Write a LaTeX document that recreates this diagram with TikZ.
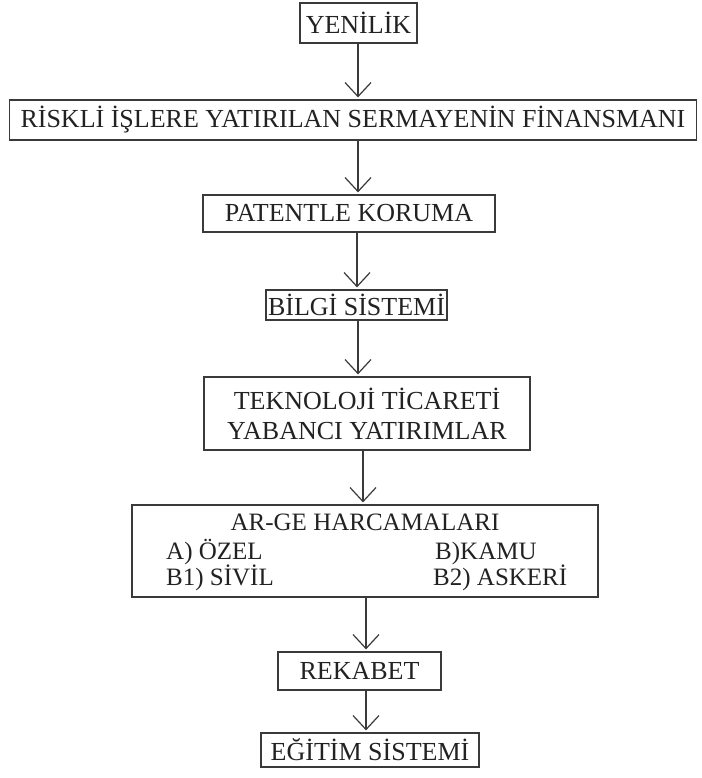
\documentclass[tikz,border=0pt]{standalone}
\usepackage{fontspec}
\setmainfont{Liberation Serif}
\usetikzlibrary{arrows.meta}
\definecolor{boxline}{HTML}{3A3A3A}
\definecolor{txt}{HTML}{222222}
\tikzset{
  box/.style={draw=boxline, line width=1.2pt, inner sep=0pt, align=center, text=txt,
    font=\fontsize{26}{30}\selectfont},
  lbl/.style={inner sep=0pt, text=txt, font=\fontsize{25}{28}\selectfont},
  arr/.style={draw=boxline, line width=1.2pt, -{Straight Barb[length=14pt,width=26pt,line width=1.2pt]}, shorten >=2pt}
}
\begin{document}
\begin{tikzpicture}[x=1pt,y=-1pt]
\useasboundingbox (0,0) rectangle (701,778);
\fill[white] (0,0) rectangle (701,778);
\node[box, minimum width=117pt, minimum height=40pt] (yen) at (358.5,23) {YENİLİK};
\node[box, minimum width=687pt, minimum height=40pt] (risk) at (353,120) {RİSKLİ İŞLERE YATIRILAN SERMAYENİN FİNANSMANI};
\node[box, minimum width=292pt, minimum height=37pt] (pat) at (349,213.5) {PATENTLE KORUMA};
\node[box, minimum width=181pt, minimum height=30pt] (bil) at (356.5,305) {BİLGİ SİSTEMİ};
\node[box, minimum width=326pt, minimum height=73pt] (tek) at (367,413.5) {TEKNOLOJİ TİCARETİ\\YABANCI YATIRIMLAR};
\node[box, minimum width=466pt, minimum height=92pt] (arge) at (365,551) {};
\node[lbl] (argt) at (365,522) {AR-GE HARCAMALARI};
\node[lbl, anchor=base west] (ozel) at (166,559) {A) ÖZEL};
\node[lbl, anchor=base west] (kamu) at (435,559) {B)KAMU};
\node[lbl, anchor=base west] (sivil) at (166,585) {B1) SİVİL};
\node[lbl, anchor=base west] (asker) at (433,585) {B2) ASKERİ};
\node[box, minimum width=163pt, minimum height=38pt] (rek) at (359.5,671) {REKABET};
\node[box, minimum width=218pt, minimum height=34pt] (egi) at (370,750) {EĞİTİM SİSTEMİ};
\coordinate (x1) at (358,0);
\coordinate (x2) at (358,0);
\coordinate (x3) at (357,0);
\coordinate (x4) at (358,0);
\coordinate (x5) at (363,0);
\coordinate (x6) at (366,0);
\coordinate (x7) at (366,0);
\draw[arr] (yen.south -| x1) -- (risk.north -| x1);
\draw[arr] (risk.south -| x2) -- (pat.north -| x2);
\draw[arr] (pat.south -| x3) -- (bil.north -| x3);
\draw[arr] (bil.south -| x4) -- (tek.north -| x4);
\draw[arr] (tek.south -| x5) -- (arge.north -| x5);
\draw[arr] (arge.south -| x6) -- (rek.north -| x6);
\draw[arr] (rek.south -| x7) -- (egi.north -| x7);
\end{tikzpicture}
\end{document}
